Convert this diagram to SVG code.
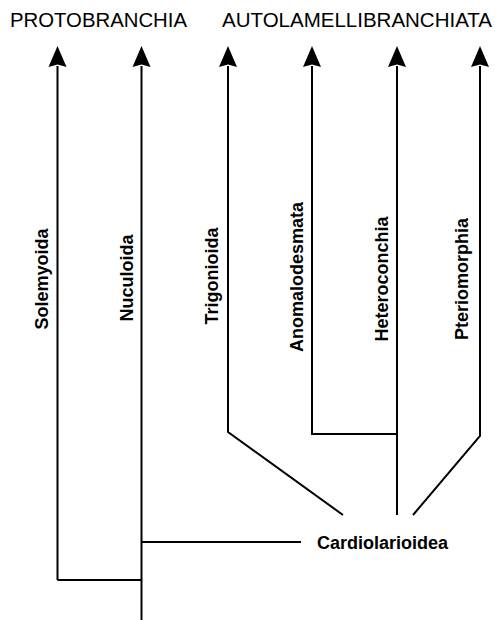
<svg xmlns="http://www.w3.org/2000/svg" width="495" height="620" viewBox="0 0 495 620">
<style>
.hdr{font-family:"Liberation Sans",Arial,sans-serif;font-size:20px;fill:#000}
.lbl{font-family:"Liberation Sans",Arial,sans-serif;font-size:18px;font-weight:bold;fill:#000}
.vl{text-anchor:middle}
.ln{fill:none;stroke:#000;stroke-width:2;stroke-linejoin:miter}
</style>
<defs>
<path id="ah" d="M0,0 L9,21 L0,18.5 L-9,21 Z" fill="#000"/>
</defs>
<rect width="495" height="620" fill="#fff"/>
<g id="headers">
<text class="hdr" x="10" y="27" textLength="177" lengthAdjust="spacingAndGlyphs">PROTOBRANCHIA</text>
<text class="hdr" x="222" y="27" textLength="270" lengthAdjust="spacingAndGlyphs">AUTOLAMELLIBRANCHIATA</text>
</g>
<g id="connectors">
<path class="ln" d="M57.5,580 V66"/>
<path class="ln" d="M141.5,620 V66"/>
<path class="ln" d="M57.5,580 H141.5"/>
<path class="ln" d="M141.5,542 H301"/>
<path class="ln" d="M343,515 L228,432 V66"/>
<path class="ln" d="M397,434 H312 V66"/>
<path class="ln" d="M397,515 V66"/>
<path class="ln" d="M413,515 L480,436 V66"/>
<use href="#ah" x="57.5" y="46"/>
<use href="#ah" x="141.5" y="46"/>
<use href="#ah" x="228" y="46"/>
<use href="#ah" x="312" y="46"/>
<use href="#ah" x="397" y="46"/>
<use href="#ah" x="480" y="46"/>
</g>
<g id="solemyoida"><text class="lbl vl" transform="translate(47.5,279) rotate(-90)">Solemyoida</text></g>
<g id="nuculoida"><text class="lbl vl" transform="translate(132.5,278) rotate(-90)">Nuculoida</text></g>
<g id="trigonioida"><text class="lbl vl" transform="translate(217.5,276) rotate(-90)">Trigonioida</text></g>
<g id="anomalodesmata"><text class="lbl vl" transform="translate(302.5,277) rotate(-90)">Anomalodesmata</text></g>
<g id="heteroconchia"><text class="lbl vl" transform="translate(387.5,279) rotate(-90)">Heteroconchia</text></g>
<g id="pteriomorphia"><text class="lbl vl" transform="translate(467.5,279) rotate(-90)">Pteriomorphia</text></g>
<g id="cardiolarioidea"><text class="lbl" x="317" y="549">Cardiolarioidea</text></g>
</svg>
